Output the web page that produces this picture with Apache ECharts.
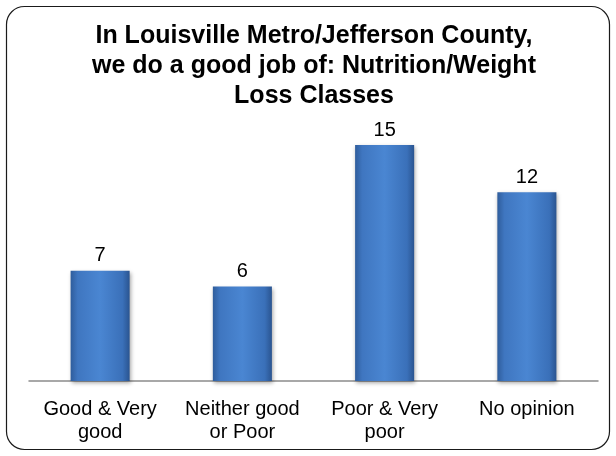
<!DOCTYPE html>
<html>
<head>
<meta charset="utf-8">
<script src="https://cdn.jsdelivr.net/npm/echarts@6/dist/echarts.min.js"></script>
<style>
  html, body { margin: 0; padding: 0; background: #fff; }
  #chart { width: 616px; height: 456px; }
</style>
</head>
<body>
<div id="chart"></div>
<script>
// Survey responses: Nutrition/Weight Loss Classes
const categories = ['Good & Very\ngood', 'Neither good\nor Poor', 'Poor & Very\npoor', 'No opinion'];
const counts = [7, 6, 15, 12];

const chart = echarts.init(document.getElementById('chart'), null, { renderer: 'canvas' });

const barFill = new echarts.graphic.LinearGradient(0, 0, 1, 0, [
  { offset: 0, color: '#2f5d9c' },
  { offset: 0.12, color: '#3f76c0' },
  { offset: 0.5, color: '#4a86d2' },
  { offset: 0.88, color: '#3a70b9' },
  { offset: 1, color: '#2a5490' }
]);

const font = 'Liberation Sans, Arial, sans-serif';

chart.setOption({
  animation: false,
  backgroundColor: '#ffffff',
  title: {
    text: 'In Louisville Metro/Jefferson County,\nwe do a good job of: Nutrition/Weight\nLoss Classes',
    left: 309,
    top: 16,
    textAlign: 'center',
    textStyle: {
      fontFamily: font,
      fontWeight: 'bold',
      fontSize: 25,
      lineHeight: 30,
      color: '#000'
    }
  },
  graphic: [{
    type: 'rect',
    shape: { x: 6.5, y: 6.5, width: 603, height: 443, r: 18 },
    style: { fill: 'none', stroke: '#1a1a1a', lineWidth: 1.2 },
    z: -1
  }],
  grid: { left: 29, right: 18, top: 145, bottom: 75 },
  xAxis: {
    type: 'category',
    data: categories,
    axisTick: { show: false },
    axisLine: { lineStyle: { color: '#8c8c8c', width: 1.5 } },
    axisLabel: {
      interval: 0,
      margin: 17,
      fontFamily: font,
      fontSize: 20,
      lineHeight: 23,
      color: '#000'
    }
  },
  yAxis: {
    type: 'value',
    min: 0,
    max: 15,
    show: false,
    splitLine: { show: false }
  },
  series: [{
    type: 'bar',
    data: counts,
    barWidth: '41.5%',
    itemStyle: {
      color: barFill,
      shadowColor: 'rgba(0,0,0,0.35)',
      shadowBlur: 4,
      shadowOffsetX: 1,
      shadowOffsetY: 2
    },
    label: {
      show: true,
      position: 'top',
      distance: 5,
      fontFamily: font,
      fontSize: 20,
      color: '#000'
    }
  }]
});
</script>
</body>
</html>
